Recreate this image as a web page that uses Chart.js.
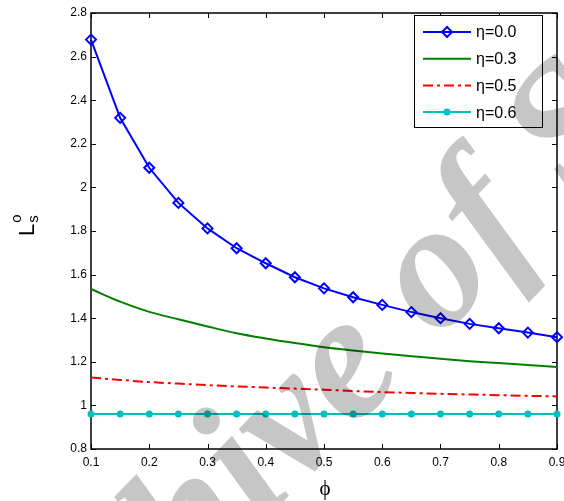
<!DOCTYPE html>
<html>
<head>
<meta charset="utf-8">
<script src="https://cdn.jsdelivr.net/npm/chart.js@4.4.1/dist/chart.umd.min.js"></script>
<style>
  html, body { margin: 0; padding: 0; background: #fff; }
</style>
</head>
<body>
<canvas id="chart" width="564" height="501"></canvas>
<script>
// phi values (x axis)
const phi = [0.1, 0.15, 0.2, 0.25, 0.3, 0.35, 0.4, 0.45, 0.5, 0.55, 0.6, 0.65, 0.7, 0.75, 0.8, 0.85, 0.9]

// L_s^o for each eta
const eta00 = [2.678, 2.319, 2.090, 1.929, 1.812, 1.721, 1.652, 1.588, 1.537, 1.496, 1.461, 1.428, 1.400, 1.374, 1.354, 1.334, 1.313]
const eta03 = [1.534, 1.476, 1.429, 1.395, 1.362, 1.331, 1.307, 1.286, 1.267, 1.252, 1.238, 1.226, 1.214, 1.203, 1.194, 1.185, 1.176]
const eta05 = [1.128, 1.117, 1.107, 1.100, 1.093, 1.087, 1.082, 1.077, 1.072, 1.066, 1.061, 1.057, 1.053, 1.050, 1.047, 1.044, 1.041]
const eta06 = [0.960, 0.960, 0.960, 0.960, 0.960, 0.960, 0.960, 0.960, 0.960, 0.960, 0.960, 0.960, 0.960, 0.960, 0.960, 0.960, 0.960]

const labels = ['η=0.0', 'η=0.3', 'η=0.5', 'η=0.6']

const FONT = "'Liberation Sans', Arial, sans-serif"

const toPoints = (ys) => ys.map((y, i) => ({ x: phi[i], y }))

// box round the plot plus inward ticks, matlab style
const framePlugin = {
  id: 'frame',
  beforeDatasetsDraw(chart) {
    const { ctx, chartArea: a, scales } = chart
    ctx.save()
    ctx.strokeStyle = '#000'
    ctx.lineWidth = 1
    ctx.beginPath()
    scales.x.ticks.forEach((t) => {
      const px = Math.round(scales.x.getPixelForValue(t.value)) + 0.5
      ctx.moveTo(px, a.bottom); ctx.lineTo(px, a.bottom - 5)
      ctx.moveTo(px, a.top); ctx.lineTo(px, a.top + 5)
    })
    scales.y.ticks.forEach((t) => {
      const py = Math.round(scales.y.getPixelForValue(t.value)) + 0.5
      ctx.moveTo(a.left, py); ctx.lineTo(a.left + 5, py)
      ctx.moveTo(a.right, py); ctx.lineTo(a.right - 5, py)
    })
    ctx.stroke()
    ctx.lineWidth = 1.5
    ctx.strokeRect(a.left, a.top, a.right - a.left, a.bottom - a.top)
    ctx.restore()
  },
}

// axis titles: L with sub s and sup o, and phi
const titlePlugin = {
  id: 'titles',
  afterDraw(chart) {
    const { ctx } = chart
    ctx.save()
    ctx.fillStyle = '#000'
    ctx.translate(34, 236)
    ctx.rotate(-Math.PI / 2)
    ctx.textBaseline = 'alphabetic'
    ctx.textAlign = 'left'
    ctx.font = '22px ' + FONT
    ctx.fillText('L', 0, 0)
    const w = ctx.measureText('L').width
    ctx.font = '15px ' + FONT
    ctx.fillText('o', w + 1, -13)
    ctx.fillText('s', w + 1, 4)
    ctx.restore()

    ctx.save()
    ctx.fillStyle = '#000'
    ctx.font = "21px 'Liberation Serif', 'DejaVu Serif', serif"
    ctx.textAlign = 'center'
    ctx.textBaseline = 'middle'
    ctx.fillText('ϕ', 325, 489)
    ctx.restore()
  },
}

// legend with a frame, drawn from the datasets
const legendPlugin = {
  id: 'boxLegend',
  afterDraw(chart) {
    const { ctx } = chart
    const x0 = 414, y0 = 15, w = 128, h = 112
    ctx.save()
    ctx.fillStyle = '#fff'
    ctx.fillRect(x0, y0, w, h)
    ctx.strokeStyle = '#000'
    ctx.lineWidth = 1
    ctx.strokeRect(x0 + 0.5, y0 + 0.5, w, h)
    chart.data.datasets.forEach((ds, i) => {
      const y = 32 + i * 26.7
      ctx.save()
      ctx.strokeStyle = ds.borderColor
      ctx.lineWidth = ds.borderWidth
      ctx.setLineDash(ds.borderDash || [])
      ctx.beginPath()
      ctx.moveTo(423, y)
      ctx.lineTo(471, y)
      ctx.stroke()
      ctx.restore()
      if (ds.pointRadius > 0) {
        ctx.save()
        ctx.strokeStyle = ds.borderColor
        ctx.fillStyle = ds.pointBackgroundColor
        ctx.lineWidth = ds.pointBorderWidth
        Chart.helpers.drawPoint(ctx, {
          pointStyle: ds.pointStyle,
          radius: ds.pointRadius,
          borderWidth: ds.pointBorderWidth,
        }, 447, y)
        ctx.restore()
      }
      ctx.fillStyle = '#000'
      ctx.font = '16px ' + FONT
      ctx.textAlign = 'left'
      ctx.textBaseline = 'middle'
      ctx.fillText(ds.label, 476, y + 1)
    })
    ctx.restore()
  },
}

// grey watermark lying over the picture
const watermarkPlugin = {
  id: 'watermark',
  afterDraw(chart) {
    const { ctx } = chart
    const text = 'Archive of SID'
    ctx.save()
    ctx.globalCompositeOperation = 'multiply'
    ctx.fillStyle = '#c6c6c6'
    ctx.font = "italic bold 180px 'Liberation Serif', serif"
    const before = ctx.measureText('Archiv').width
    const eW = ctx.measureText('e').width
    ctx.translate(355, 367)
    ctx.rotate(-46 * Math.PI / 180)
    ctx.textBaseline = 'alphabetic'
    ctx.fillText(text, -(before + eW / 2 + 8), 42)
    ctx.restore()
  },
}

const ctx = document.getElementById('chart').getContext('2d')

new Chart(ctx, {
  type: 'line',
  data: {
    datasets: [
      {
        label: labels[0],
        data: toPoints(eta00),
        borderColor: '#0000ff',
        borderWidth: 2,
        pointStyle: 'rectRot',
        pointRadius: 5,
        pointBorderWidth: 2,
        pointBackgroundColor: 'rgba(255,255,255,0)',
        pointBorderColor: '#0000ff',
        tension: 0,
        clip: false,
      },
      {
        label: labels[1],
        data: toPoints(eta03),
        borderColor: '#008000',
        borderWidth: 2,
        pointRadius: 0,
        cubicInterpolationMode: 'monotone',
        clip: false,
      },
      {
        label: labels[2],
        data: toPoints(eta05),
        borderColor: '#ff0000',
        borderWidth: 2,
        borderDash: [10, 4, 3, 4],
        pointRadius: 0,
        cubicInterpolationMode: 'monotone',
        clip: false,
      },
      {
        label: labels[3],
        data: toPoints(eta06),
        borderColor: '#00bfbf',
        borderWidth: 2,
        pointStyle: 'circle',
        pointRadius: 3.5,
        pointBorderWidth: 0,
        pointBackgroundColor: '#00bfbf',
        pointBorderColor: '#00bfbf',
        clip: false,
      },
    ],
  },
  options: {
    responsive: false,
    animation: false,
    events: [],
    layout: { padding: { left: 0, top: 13, right: 4, bottom: 0 } },
    scales: {
      x: {
        type: 'linear',
        min: 0.1,
        max: 0.9,
        grid: { display: false, drawTicks: false },
        border: { display: false },
        ticks: {
          stepSize: 0.1,
          autoSkip: false,
          maxRotation: 0,
          padding: 6,
          color: '#000',
          font: { family: FONT, size: 12 },
          callback: (v) => String(+v.toFixed(1)),
        },
        afterFit: (s) => { s.height = 52; s.paddingLeft = 0; s.paddingRight = 0 },
      },
      y: {
        type: 'linear',
        min: 0.8,
        max: 2.8,
        grid: { display: false, drawTicks: false },
        border: { display: false },
        ticks: {
          stepSize: 0.2,
          padding: 4,
          color: '#000',
          font: { family: FONT, size: 12 },
          callback: (v) => String(+v.toFixed(1)),
        },
        afterFit: (s) => { s.width = 91; s.paddingTop = 0; s.paddingBottom = 0 },
      },
    },
    plugins: {
      legend: { display: false },
      tooltip: { enabled: false },
    },
  },
  plugins: [framePlugin, titlePlugin, legendPlugin, watermarkPlugin],
})
</script>
</body>
</html>
